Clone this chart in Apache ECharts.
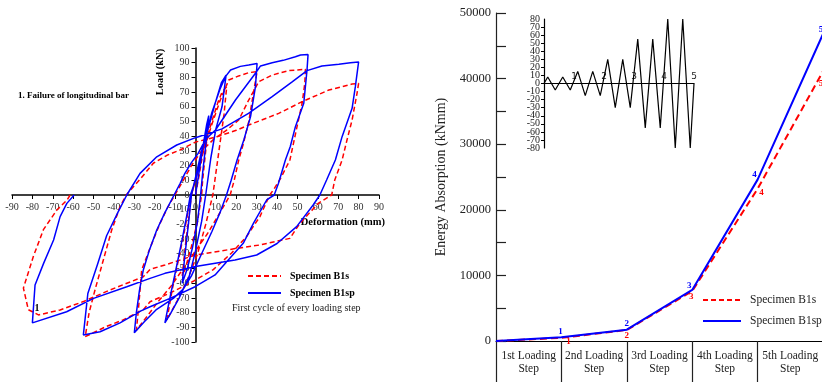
<!DOCTYPE html>
<html>
<head>
<meta charset="utf-8">
<script src="https://cdn.jsdelivr.net/npm/echarts@6.0.0/dist/echarts.min.js"></script>
<style>
  html, body { margin: 0; padding: 0; background: #fff; }
  #chart { width: 822px; height: 382px; }
</style>
</head>
<body>
<div id="chart"></div>
<script>
// Hysteresis loops, first cycle of each loading step: [deformation mm, load kN]
const b1sStep1 = [[0,0],[2,15],[4,32],[6,45],[5,30],[3.5,10],[3,0],[1,-18],[-2,-35],[-5,-50],[-6.5,-55],[-5,-35],[-3,-12],[-2,0]];
const b1sStep2 = [[-2,0],[1,15],[4,32],[8,50],[11,63],[13,70],[15.3,73.7],[14,55],[12,35],[10,15],[8.5,0],[5,-20],[1,-40],[-4,-58],[-9,-72],[-14,-85],[-11.5,-65],[-8.5,-45],[-5.5,-25],[-3.5,-10],[-2,0]];
const b1sStep3 = [[-2,0],[1,15],[4,30],[8,48],[12,64],[16.3,78.2],[21.2,81],[26.1,83.2],[30.2,84],[28.5,70],[26.1,49.9],[23.5,35],[21.2,23.8],[19,10],[17,0],[12,-12],[6,-26],[0,-38],[-6,-50],[-12,-62],[-18,-72],[-24,-83],[-29,-92],[-28,-78],[-26.4,-51],[-22,-35],[-17.4,-19.3],[-13.5,-8],[-10.1,0]];
const b1sStep4 = [[-10.1,0],[-6,10],[-2,20],[3,30],[9,38],[15.3,44.2],[21.2,51],[26.1,64.6],[31,77],[37.6,81.6],[45.8,84.6],[53.9,85.5],[54.5,86],[53.6,75.9],[52.3,62.4],[49.8,46.5],[46.3,23.8],[42,12],[38.5,4],[36.4,0],[31.6,-14.7],[25,-28.3],[17.7,-39.5],[8.7,-50.8],[-1.1,-58.7],[-12.5,-66.7],[-22.3,-72.6],[-25.6,-78],[-35.5,-85],[-44,-89.6],[-54.1,-96.4],[-52.2,-80.2],[-49.3,-64.6],[-45.2,-44.2],[-41.1,-23.8],[-37,-7.9],[-34,0]];
const b1sStep5 = [[-34,0],[-27,11],[-20.7,21.6],[-14,27],[-7.6,30.6],[0,36],[11.4,40],[20,44],[26.1,47.6],[40.8,55.5],[52.3,63.5],[65.4,71.4],[76.8,75.5],[80,76],[79.2,69],[76.8,51],[74.3,37.4],[71.9,23.8],[68.3,10.2],[66.8,0],[60.2,-5.7],[51.2,-19.3],[46.3,-29.5],[31.6,-34],[20.2,-36.3],[0,-40.8],[-15,-47.6],[-22.3,-50.6],[-25.6,-55.6],[-41.9,-64.6],[-55,-72.5],[-66.4,-78.2],[-77,-81.6],[-82,-78],[-84.4,-63.3],[-79.5,-41.7],[-74.6,-23.6],[-68,-10.2],[-63,-3.4],[-61.5,0]];

const b1spStep1 = [[0,0],[2,18],[4,36],[5.5,48],[6.5,54],[5.5,40],[3.5,15],[2.5,0],[1,-18],[-1.5,-36],[-4,-50],[-6.5,-60],[-5.5,-45],[-3.5,-20],[-2,0]];
const b1spStep2 = [[-2,0],[0,12],[3,30],[6.5,46.5],[10,64],[12.7,76.4],[15,81.6],[13,60],[10,45],[7.5,25],[5,0],[3,-18],[0,-38],[-3,-55],[-8,-70],[-12,-80],[-15,-87],[-12.5,-69.6],[-9.5,-50],[-6.5,-30],[-4,-12],[-2.5,0]];
const b1spStep3 = [[-2.5,0],[0,10],[2,22],[5,40],[8,56],[12,72],[14.7,80.5],[17.2,85],[22,87.5],[26.1,88.4],[30.2,89.5],[29.4,73.7],[27,53.3],[23.7,37.4],[20.4,23.8],[17.5,10],[15.2,0],[12,-12],[8,-25],[3,-40],[-2,-55],[-6,-64],[-10.9,-70.3],[-19.4,-78.2],[-25,-86],[-30,-93.7],[-29,-80],[-27.5,-65],[-25.6,-51],[-22.5,-37],[-19,-23.8],[-15,-12],[-10.5,0]];
const b1spStep4 = [[-10.5,0],[-7.5,8],[-5.2,14.7],[-2,22],[1.3,28.3],[5,38],[9.8,44.2],[19.6,64.6],[29.4,82.8],[31.9,87.8],[37.6,90],[43,91.6],[49,94],[51.5,95.2],[55.2,95.5],[54.7,85],[53.1,62.4],[49,46.5],[46.5,33],[44.1,23.8],[40.7,8],[38.6,0],[34.9,-3.4],[28.4,-19.3],[23.4,-32.9],[15.3,-45.4],[9.6,-54.4],[-0.2,-62.4],[-12.5,-70.3],[-22.3,-76],[-27,-79],[-37,-87],[-46.8,-93],[-55,-95.2],[-52.8,-67],[-48,-47],[-43.6,-27.7],[-38,-11.6],[-33.7,0]];
const b1spStep5 = [[-33.7,0],[-27.2,14.7],[-19,26],[-9.2,34],[0,39],[13,45],[26,55.5],[37.6,66.9],[47.4,77],[54.7,84.6],[62,87.8],[70.3,89],[76,90],[80,90.5],[78.4,73.7],[76.8,59],[71.9,39.7],[68.6,23.8],[64.3,10.2],[61,0],[57.7,-6.8],[49.6,-21.5],[40,-33],[30,-40.8],[19.4,-44.2],[0,-48.6],[-15,-53.3],[-22.3,-56.7],[-33.7,-62.4],[-50,-70.3],[-63.2,-79.4],[-80,-87],[-78.7,-61.2],[-74.5,-46.5],[-69.6,-30.6],[-66.4,-14.7],[-63.1,-5.7],[-59.5,0]];

// Energy absorption at the end of each loading step (kNmm)
const stepLabels = ['1st Loading\nStep', '2nd Loading\nStep', '3rd Loading\nStep', '4th Loading\nStep', '5th Loading\nStep'];
const stepEnds = [0, 1, 2, 3, 4, 5];
const energyB1s = [0, 480, 1680, 7600, 23200, 41100];
const energyB1sp = [0, 560, 1730, 7790, 24600, 46800];

// Loading protocol inset (step number vs displacement mm)
const protocolX = [0, 0.125, 0.375, 0.625, 0.875, 1.125, 1.375, 1.625, 1.875, 2.125, 2.375, 2.625, 2.875, 3.125, 3.375, 3.625, 3.875, 4.125, 4.375, 4.625, 4.875, 5];
const protocolY = [0, 8, -8, 8, -8, 15, -15, 15, -15, 30, -30, 30, -30, 55, -55, 55, -55, 80, -80, 80, -80, 0];

const SERIF = "'Liberation Serif', 'DejaVu Serif', serif";
const RED = '#ff0000';
const BLUE = '#0000ff';
const INK = '#000';

// label nudges for the step numbers on the energy curves
const blueLabelOffset = [[0,0],[-1,0],[0,0],[-3,1],[-3,1],[-2,1]];
const redLabelOffset = [[0,0],[7,-2],[0,0],[-1,0],[4,-2],[-2,7]];

function energyData(vals, offsets, pos, color) {
  return vals.map((v, i) => ({
    value: [stepEnds[i], v],
    label: {
      show: i > 0,
      position: pos,
      distance: 1,
      offset: offsets[i],
      formatter: String(i),
      color: color,
      fontFamily: SERIF,
      fontWeight: 'bold',
      fontSize: 9,
    },
  }));
}

const chart = echarts.init(document.getElementById('chart'), null, { renderer: 'canvas' });

const leftLabel = { color: '#333', fontFamily: SERIF, fontSize: 10 };
const insetLabel = { color: '#222', fontFamily: SERIF, fontSize: 10, margin: 4 };

chart.setOption({
  animation: false,
  backgroundColor: '#fff',
  grid: [
    { left: 12, right: 443, top: 48, bottom: 40, outerBoundsMode: 'none' },
    { left: 496, right: -1, top: 13, bottom: 41, outerBoundsMode: 'none' },
    { left: 544, width: 150, top: 19, height: 129, outerBoundsMode: 'none' },
  ],
  xAxis: [
    {
      // placed on the zero line of the load axis
      gridIndex: 0, type: 'value', min: -90, max: 90, interval: 10,
      position: 'bottom', offset: -147,
      axisLine: { onZero: false, lineStyle: { color: INK, width: 1.5 } },
      axisTick: { length: 4, lineStyle: { color: INK } },
      axisLabel: { ...leftLabel, margin: 7 },
      splitLine: { show: false },
    },
    {
      gridIndex: 1, type: 'value', min: 0, max: 5, interval: 1, position: 'bottom',
      axisLine: { onZero: false, lineStyle: { color: INK, width: 1.2 } },
      axisTick: { length: 41, lineStyle: { color: '#222', width: 1.2 } },
      axisLabel: { show: false },
      splitLine: { show: false },
    },
    {
      gridIndex: 1, type: 'category', data: stepLabels, boundaryGap: true, position: 'bottom',
      axisLine: { show: false, onZero: false }, axisTick: { show: false },
      axisLabel: { color: '#222', fontFamily: SERIF, fontSize: 11.5, lineHeight: 13, margin: 8, interval: 0 },
    },
    {
      gridIndex: 2, type: 'value', min: 0, max: 5, interval: 1,
      position: 'bottom', offset: -64.5,
      axisLine: { onZero: false, lineStyle: { color: INK, width: 1.2 } },
      axisTick: { show: false },
      axisLabel: { inside: true, margin: 2, color: '#222', fontFamily: 'DejaVu Sans', fontSize: 9,
        formatter: (v) => (v === 0 ? '' : String(v)) },
      splitLine: { show: false },
    },
  ],
  yAxis: [
    {
      gridIndex: 0, type: 'value', min: -100, max: 100, interval: 10,
      position: 'left', offset: -183.5,
      axisLine: { onZero: false, lineStyle: { color: INK, width: 1.5 } },
      axisTick: { length: 4, lineStyle: { color: INK } },
      axisLabel: { ...leftLabel, margin: 6 },
      splitLine: { show: false },
    },
    {
      gridIndex: 1, type: 'value', min: 0, max: 50000, interval: 5000,
      name: 'Energy Absorption (kNmm)', nameLocation: 'middle', nameGap: 48,
      nameTextStyle: { color: '#222', fontFamily: SERIF, fontSize: 14 },
      axisLine: { onZero: false, lineStyle: { color: '#222', width: 1.2 } },
      axisTick: { inside: true, length: 10, lineStyle: { color: '#222', width: 1.2 } },
      axisLabel: { color: '#222', fontFamily: SERIF, fontSize: 12.5, margin: 5,
        formatter: (v) => (v % 10000 === 0 ? String(v) : '') },
      splitLine: { show: false },
    },
    {
      // inner tick labels -70..70 (the crowded end labels come from the axis below)
      gridIndex: 2, type: 'value', min: -80, max: 80, interval: 10, position: 'left',
      axisLine: { onZero: false, lineStyle: { color: INK, width: 1.2 } },
      axisTick: { length: 3, lineStyle: { color: INK } },
      axisLabel: { ...insetLabel, showMinLabel: false, showMaxLabel: false },
      splitLine: { show: false },
    },
    {
      gridIndex: 2, type: 'value', min: -80, max: 80, interval: 160, position: 'left',
      axisLine: { show: false, onZero: false }, axisTick: { show: false },
      axisLabel: { ...insetLabel },
      splitLine: { show: false },
    },
  ],
  legend: [
    {
      data: ['Specimen B1s', 'Specimen B1sp'], orient: 'vertical', left: 242, top: 266,
      itemWidth: 33, itemHeight: 8, itemGap: 7, selectedMode: false,
      itemStyle: { opacity: 0 },
      textStyle: { color: INK, fontFamily: SERIF, fontSize: 10, fontWeight: 'bold', padding: [0, 0, 0, 4] },
    },
    {
      data: ['Specimen B1s', 'Specimen B1sp'], orient: 'vertical', left: 697, top: 289,
      itemWidth: 38, itemHeight: 8, itemGap: 9, selectedMode: false,
      itemStyle: { opacity: 0 },
      textStyle: { color: '#222', fontFamily: SERIF, fontSize: 11.5, padding: [0, 0, 0, 4] },
    },
  ],
  graphic: [
    { type: 'text', left: 18, top: 91, style: { text: '1. Failure of longitudinal bar', fill: INK, font: 'bold 9px ' + SERIF } },
    { type: 'text', x: 160, y: 72, rotation: Math.PI / 2,
      style: { text: 'Load (kN)', fill: INK, font: 'bold 10.5px ' + SERIF, align: 'center', verticalAlign: 'middle' } },
    { type: 'text', x: 385, y: 222,
      style: { text: 'Deformation (mm)', fill: INK, font: 'bold 10.5px ' + SERIF, align: 'right', verticalAlign: 'middle' } },
    { type: 'text', x: 232, y: 308,
      style: { text: 'First cycle of every loading step', fill: '#222', font: '10px ' + SERIF, verticalAlign: 'middle' } },
    { type: 'text', x: 37, y: 308,
      style: { text: '1', fill: INK, font: 'bold 10px ' + SERIF, align: 'center', verticalAlign: 'middle' } },
  ],
  series: [
    {
      name: 'Specimen B1s', type: 'line', xAxisIndex: 0, yAxisIndex: 0,
      data: [].concat(b1sStep1, b1sStep2, b1sStep3, b1sStep4, b1sStep5),
      symbol: 'none', z: 2,
      itemStyle: { color: RED },
      lineStyle: { color: RED, width: 1.5, type: [5, 3] },
    },
    {
      name: 'Specimen B1sp', type: 'line', xAxisIndex: 0, yAxisIndex: 0,
      data: [].concat(b1spStep1, b1spStep2, b1spStep3, b1spStep4, b1spStep5),
      symbol: 'none', z: 3,
      itemStyle: { color: BLUE },
      lineStyle: { color: BLUE, width: 1.5 },
    },
    {
      name: 'Specimen B1s', type: 'line', xAxisIndex: 1, yAxisIndex: 1,
      data: energyData(energyB1s, redLabelOffset, 'bottom', RED),
      symbol: 'circle', symbolSize: 0.1, showSymbol: true, z: 2,
      itemStyle: { color: RED },
      lineStyle: { color: RED, width: 2, type: [7, 4] },
    },
    {
      name: 'Specimen B1sp', type: 'line', xAxisIndex: 1, yAxisIndex: 1,
      data: energyData(energyB1sp, blueLabelOffset, 'top', BLUE),
      symbol: 'circle', symbolSize: 0.1, showSymbol: true, z: 3,
      itemStyle: { color: BLUE },
      lineStyle: { color: BLUE, width: 2 },
    },
    {
      name: 'protocol', type: 'line', xAxisIndex: 3, yAxisIndex: 2,
      data: protocolX.map((x, i) => [x, protocolY[i]]),
      symbol: 'none', z: 4,
      lineStyle: { color: INK, width: 1.2 },
    },
  ],
});
</script>
</body>
</html>
